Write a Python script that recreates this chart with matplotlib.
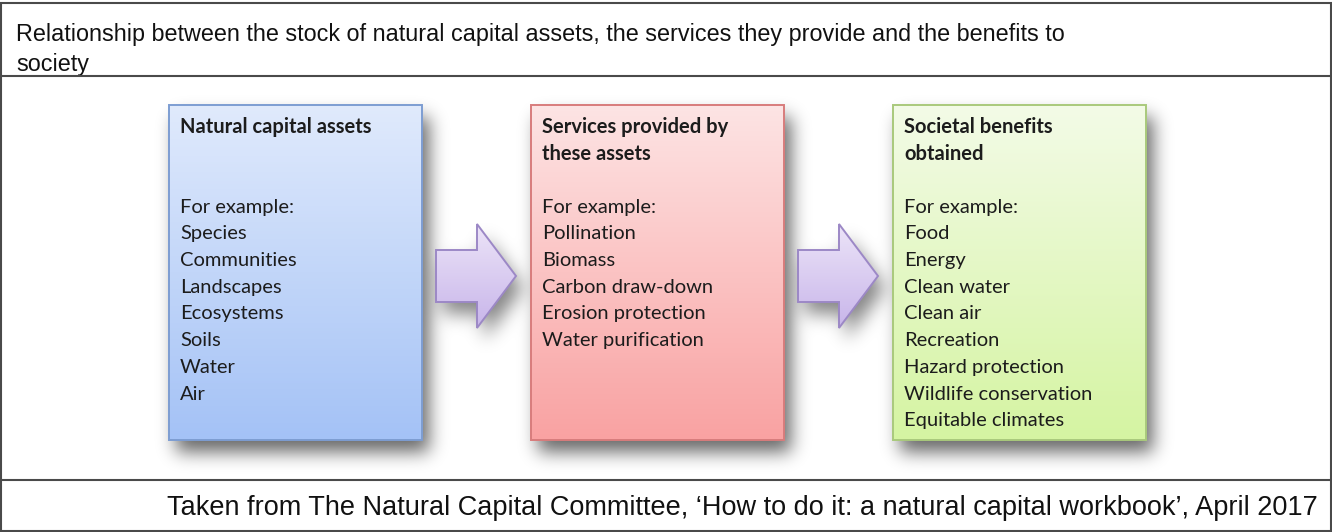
import matplotlib.pyplot as plt
import numpy as np
from matplotlib.patches import Rectangle, Polygon
from matplotlib.path import Path

# Text content
title_lines = [
    "Relationship between the stock of natural capital assets, the services they provide and the benefits to",
    "society",
]
source_note = ("Taken from The Natural Capital Committee, \u2018How to do it: "
               "a natural capital workbook\u2019, April 2017")

box_headings = [
    ["Natural capital assets", ""],
    ["Services provided by", "these assets"],
    ["Societal benefits", "obtained"],
]
box_intro = "For example:"
box_items = [
    ["Species", "Communities", "Landscapes", "Ecosystems", "Soils", "Water", "Air"],
    ["Pollination", "Biomass", "Carbon draw-down", "Erosion protection",
     "Water purification"],
    ["Food", "Energy", "Clean water", "Clean air", "Recreation",
     "Hazard protection", "Wildlife conservation", "Equitable climates"],
]

# Box styling (top colour, bottom colour, edge)
box_top_col = ["#e0eafc", "#fde4e4", "#f3fbe7"]
box_bot_col = ["#a4c2f6", "#f9a2a2", "#d5f4a2"]
box_edge = ["#7d9dd2", "#d87c7c", "#a9c97c"]

# Layout in pixels
W, H = 1332, 532
box_x = [169, 531, 893]
box_w = 253
box_top, box_bot = 105, 440
arrow_x = [436, 798]
arrow_len, head_start = 80, 41
arrow_cy, tail_half, head_half = 276, 26, 52
line_h = 26.7
text_pad = 11


def hex2rgb(h):
    h = h.lstrip("#")
    return np.array([int(h[i:i + 2], 16) / 255 for i in (0, 2, 4)])


def gradient(top, bot, n=200):
    t = np.linspace(0, 1, n)[:, None]
    col = hex2rgb(top)[None, :] * (1 - t) + hex2rgb(bot)[None, :] * t
    return col[:, None, :]


def arrow_pts(x0):
    return [(x0, arrow_cy - tail_half), (x0 + head_start, arrow_cy - tail_half),
            (x0 + head_start, arrow_cy - head_half), (x0 + arrow_len, arrow_cy),
            (x0 + head_start, arrow_cy + head_half),
            (x0 + head_start, arrow_cy + tail_half), (x0, arrow_cy + tail_half)]


fig = plt.figure(figsize=(W / 100, H / 100), dpi=100)
ax = fig.add_axes([0, 0, 1, 1])
ax.axis("off")

# Soft drop shadows, blurred on a pixel grid
gx0, gx1, gy0, gy1 = 143, 1176, 78, 474
yy, xx = np.mgrid[gy0:gy1, gx0:gx1] + 0.5
mask = np.zeros(xx.shape)
dx, dy = 7, 12
for x0 in box_x:
    mask[(xx > x0 + dx) & (xx < x0 + box_w + dx)
         & (yy > box_top + dy) & (yy < box_bot + dy)] = 1
pts = np.column_stack([xx.ravel(), yy.ravel()])
for x0 in arrow_x:
    p = Path(np.array(arrow_pts(x0)) + [dx, dy])
    mask[p.contains_points(pts).reshape(xx.shape)] = 0.8
k = np.exp(-0.5 * (np.arange(-27, 28) / 9.0) ** 2)
k /= k.sum()
mask = np.apply_along_axis(lambda r: np.convolve(r, k, mode="same"), 1, mask)
mask = np.apply_along_axis(lambda c: np.convolve(c, k, mode="same"), 0, mask)
shadow = np.zeros(mask.shape + (4,))
shadow[..., 3] = mask * 0.6
ax.imshow(shadow, extent=(gx0, gx1, gy1, gy0), origin="upper",
          aspect="auto", interpolation="bilinear", zorder=1)

# Boxes with vertical gradients
for i, x0 in enumerate(box_x):
    rect = Rectangle((x0, box_top), box_w, box_bot - box_top,
                     facecolor="none", edgecolor=box_edge[i], lw=1.4, zorder=3)
    ax.add_patch(rect)
    im = ax.imshow(gradient(box_top_col[i], box_bot_col[i]),
                   extent=(x0, x0 + box_w, box_bot, box_top), origin="upper",
                   aspect="auto", zorder=2)
    im.set_clip_path(rect)

    lines = box_headings[i] + ["", box_intro] + box_items[i]
    for j, txt in enumerate(lines):
        ax.text(x0 + text_pad, 127 + j * line_h, txt, fontsize=14.5,
                family="Lato", color="#1c1c1c", va="center", ha="left",
                fontweight="bold" if j < 2 else "normal", zorder=4)

# Arrows
for x0 in arrow_x:
    poly = Polygon(arrow_pts(x0), closed=True, facecolor="none",
                   edgecolor="#9c88c6", lw=1.4, zorder=3)
    ax.add_patch(poly)
    im = ax.imshow(gradient("#ece4f8", "#c8b5ea"),
                   extent=(x0, x0 + arrow_len, arrow_cy + head_half,
                           arrow_cy - head_half),
                   origin="upper", aspect="auto", zorder=2)
    im.set_clip_path(poly)

# Table frame
frame_col = "#4a4a4a"
ax.add_patch(Rectangle((1, 3), W - 2, H - 4, facecolor="none",
                       edgecolor=frame_col, lw=1.5, zorder=5))
for y in (76, 480):
    ax.plot([1, W - 1], [y, y], color=frame_col, lw=1.5, zorder=5)

for j, txt in enumerate(title_lines):
    ax.text(16, 35 + j * 30, txt, fontsize=16.8, family="Liberation Sans",
            color="#111111", va="center", ha="left")
ax.text(1318, 508, source_note, fontsize=19.5, family="Liberation Sans",
        color="#111111", va="center", ha="right")

ax.set_xlim(0, W)
ax.set_ylim(H, 0)
fig.savefig("out.png", dpi=100)
